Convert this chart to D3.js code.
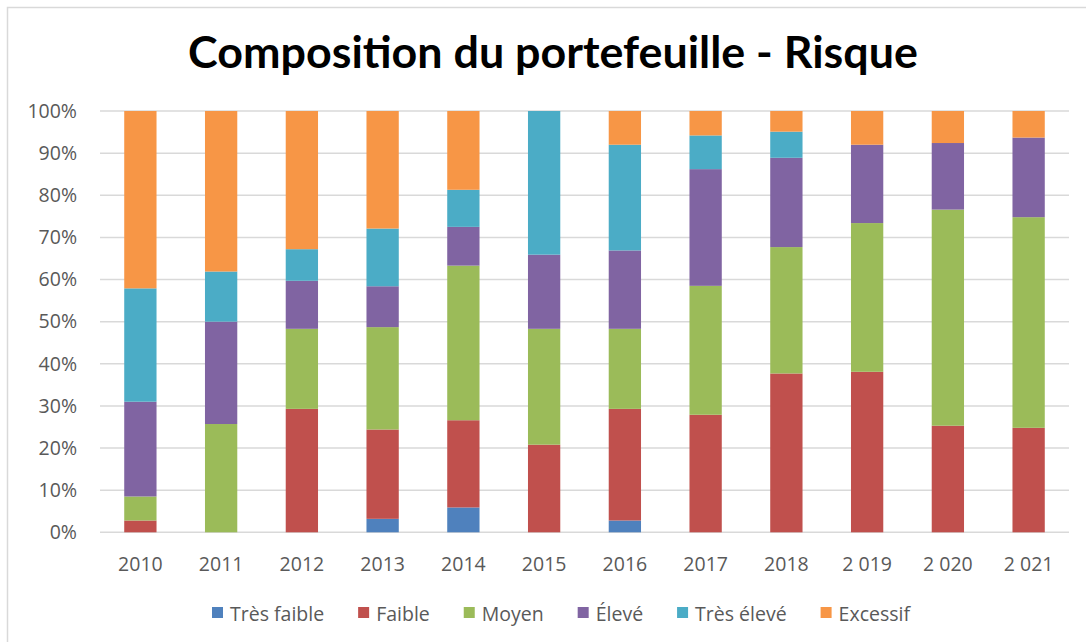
<!DOCTYPE html>
<html>
<head>
<meta charset="utf-8">
<script src="https://cdn.jsdelivr.net/npm/d3@7"></script>
<style>
  html, body { margin: 0; padding: 0; background: #ffffff; }
  svg { display: block; }
</style>
</head>
<body>
<svg id="chart" width="1086" height="642"></svg>
<script>
// ---- Data (percent of portfolio) ----
const years = ["2010","2011","2012","2013","2014","2015","2016","2017","2018","2 019","2 020","2 021"];
const seriesNames = ["Très faible","Faible","Moyen","Élevé","Très élevé","Excessif"];
const tresFaible = [0, 0, 0, 3.2, 5.9, 0, 2.8, 0, 0, 0, 0, 0];
const faible     = [2.8, 0, 29.3, 21.2, 20.7, 20.8, 26.5, 27.9, 37.7, 38.1, 25.3, 24.8];
const moyen      = [5.7, 25.7, 19.0, 24.3, 36.7, 27.5, 19.0, 30.6, 30.0, 35.3, 51.3, 50.0];
const eleve      = [22.5, 24.3, 11.4, 9.7, 9.2, 17.6, 18.6, 27.7, 21.2, 18.6, 15.8, 18.9];
const tresEleve  = [26.9, 11.9, 7.5, 13.7, 8.8, 34.1, 25.1, 8.0, 6.2, 0, 0, 0];
const excessif   = [42.1, 38.1, 32.8, 27.9, 18.7, 0, 8.0, 5.8, 4.9, 8.0, 7.6, 6.3];
const yTicks = [0, 0.1, 0.2, 0.3, 0.4, 0.5, 0.6, 0.7, 0.8, 0.9, 1.0];
const colors = ["#4F81BD","#C0504D","#9BBB59","#8064A2","#4BACC6","#F79646"];
const titleText = "Composition du portefeuille - Risque";

// ---- Build table ----
const seriesValues = [tresFaible, faible, moyen, eleve, tresEleve, excessif];
const table = years.map((y, i) => {
  const row = { year: y };
  seriesNames.forEach((s, k) => row[s] = seriesValues[k][i]);
  return row;
});

const svg = d3.select("#chart");
const FONT = "'Open Sans', Lato, sans-serif";
const TITLE_FONT = "Lato, 'Open Sans', sans-serif";
const TEXT = "#595959";
const FS = 19.5;

// Border (top & left visible only)
svg.append("rect")
  .attr("x", 7.5).attr("y", 7.5)
  .attr("width", 1300).attr("height", 1000)
  .attr("fill", "none").attr("stroke", "#d9d9d9").attr("stroke-width", 1.5);

// Scales
const x = d3.scaleBand().domain(years).range([100, 1069]).paddingInner(0.6).paddingOuter(0.3);
const y = d3.scaleLinear().domain([0, 1]).range([532.3, 111]);
const color = d3.scaleOrdinal().domain(seriesNames).range(colors);

// Gridlines
svg.append("g").selectAll("line").data(yTicks).join("line")
  .attr("x1", 100).attr("x2", 1069)
  .attr("y1", d => y(d)).attr("y2", d => y(d))
  .attr("stroke", "#d9d9d9").attr("stroke-width", 1.5);

// Stacked bars
const stacked = d3.stack().keys(seriesNames).offset(d3.stackOffsetExpand)(table);
svg.append("g").selectAll("g").data(stacked).join("g")
  .attr("fill", d => color(d.key))
  .selectAll("rect").data(d => d).join("rect")
  .attr("x", d => x(d.data.year))
  .attr("width", x.bandwidth())
  .attr("y", d => y(d[1]))
  .attr("height", d => Math.max(0, y(d[0]) - y(d[1])));

// Y axis
const yAxis = svg.append("g").attr("transform", "translate(100,0)")
  .call(d3.axisLeft(y).tickValues(yTicks).tickFormat(d3.format(".0%")).tickSize(0).tickPadding(23));
yAxis.select(".domain").remove();
yAxis.selectAll("text").attr("font-family", FONT).attr("font-size", FS).attr("fill", TEXT);

// X axis
const xAxis = svg.append("g").attr("transform", "translate(0,532.3)")
  .call(d3.axisBottom(x).tickSize(0).tickPadding(25));
xAxis.select(".domain").remove();
xAxis.selectAll("text").attr("font-family", FONT).attr("font-size", FS).attr("fill", TEXT);

// Title
const title = svg.append("text")
  .attr("x", 553).attr("y", 68)
  .attr("text-anchor", "middle")
  .attr("font-family", TITLE_FONT).attr("font-weight", "bold")
  .attr("font-size", 36).attr("fill", "#000")
  .text(titleText);
const tw = title.node().getComputedTextLength();
title.attr("font-size", 36 * 730 / tw);

// Legend
const legend = svg.append("g");
const items = legend.selectAll("g").data(seriesNames).join("g");
items.append("rect").attr("width", 11).attr("height", 11).attr("y", 607)
  .attr("fill", d => color(d));
items.append("text").attr("x", 18).attr("y", 620.5)
  .attr("font-family", FONT).attr("font-size", FS).attr("fill", TEXT)
  .text(d => d);
const widths = [];
items.each(function() { widths.push(18 + d3.select(this).select("text").node().getComputedTextLength()); });
const span = 698;
const gap = Math.max(20, (span - d3.sum(widths)) / (widths.length - 1));
const total = d3.sum(widths) + gap * (widths.length - 1);
let cx = 561 - total / 2;
items.each(function(d, i) {
  d3.select(this).attr("transform", `translate(${cx},0)`);
  cx += widths[i] + gap;
});
</script>
</body>
</html>
